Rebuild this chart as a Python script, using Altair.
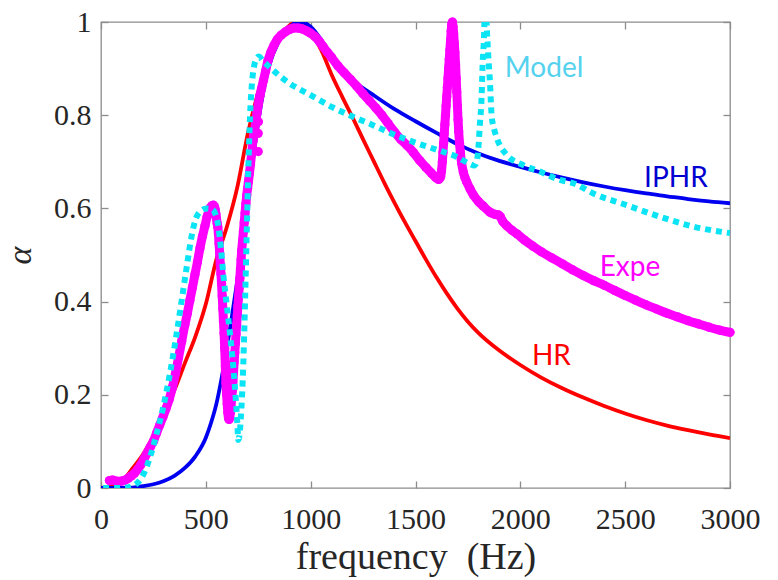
import altair as alt
import pandas as pd

# ---- HR (red, solid) ----
hr_f = [0, 50, 100, 150, 200, 250, 300, 350, 400, 450, 500, 550, 600, 650, 700,
        750, 800, 850, 900, 930, 960, 1000, 1050, 1100, 1150, 1200, 1250, 1300,
        1350, 1400, 1450, 1500, 1550, 1600, 1650, 1700, 1750, 1800, 1900, 2000,
        2100, 2200, 2300, 2400, 2500, 2600, 2700, 2800, 2900, 3000]
hr_a = [0.0, 0.004, 0.014, 0.042, 0.072, 0.112, 0.16, 0.21, 0.268, 0.325, 0.395,
        0.49, 0.56, 0.645, 0.76, 0.85, 0.92, 0.965, 0.993, 1.0, 0.996, 0.978,
        0.94, 0.887, 0.84, 0.795, 0.748, 0.702, 0.656, 0.612, 0.57, 0.53,
        0.49, 0.452, 0.417, 0.385, 0.357, 0.333, 0.295, 0.264, 0.237, 0.214,
        0.194, 0.176, 0.16, 0.146, 0.134, 0.124, 0.115, 0.107]

# ---- IPHR (blue, solid) ----
iphr_f = [0, 100, 150, 200, 250, 300, 350, 400, 450, 500, 525, 550, 575, 600,
          625, 650, 675, 700, 725, 750, 775, 800, 850, 900, 950, 1000, 1050,
          1100, 1150, 1200, 1300, 1400, 1500, 1600, 1700, 1800, 1900, 2000,
          2100, 2200, 2300, 2400, 2500, 2600, 2700, 2800, 2900, 3000]
iphr_a = [0.0, 0.0, 0.001, 0.004, 0.008, 0.015, 0.026, 0.043, 0.068, 0.108,
          0.14, 0.18, 0.235, 0.3, 0.37, 0.445, 0.525, 0.61, 0.705, 0.785, 0.852,
          0.903, 0.96, 0.99, 1.0, 0.99, 0.962, 0.927, 0.898, 0.875, 0.843,
          0.813, 0.787, 0.762, 0.738, 0.718, 0.702, 0.689, 0.677, 0.666, 0.656,
          0.647, 0.639, 0.632, 0.626, 0.62, 0.615, 0.611]

# ---- Expe (magenta, measured points) ----
expe_f = [40, 55, 70, 85, 100, 115, 130, 145, 160, 175, 190, 205, 220, 235, 250,
          265, 280, 295, 310, 325, 340, 355, 370, 385, 400, 412, 424, 436, 448,
          460, 472, 484, 496, 506, 514, 522, 530, 536, 541, 545, 548, 551, 554,
          557, 560, 563, 566, 569, 572, 575, 578, 581, 584, 587, 590, 593, 596,
          599, 602, 605, 608, 611, 614, 617, 620, 623, 626, 629, 632, 635, 638,
          641, 644, 647, 650, 653, 656, 659, 662, 665, 668, 671, 675, 679, 683,
          687, 691, 695, 699, 703, 708, 713, 719, 725, 731, 737, 744, 751, 758,
          766, 775, 785, 795, 810, 825, 840, 860, 880, 900, 920, 940, 960, 980,
          1000, 1020, 1040, 1060, 1080, 1100, 1130, 1160, 1190, 1220, 1250, 1280,
          1310, 1340, 1370, 1400, 1430, 1460, 1490, 1520, 1550, 1575, 1595, 1610,
          1620, 1624, 1628, 1631, 1634, 1637, 1640, 1643, 1646, 1649, 1652, 1655,
          1658, 1661, 1664, 1667, 1670, 1673, 1676, 1679, 1682, 1685, 1688, 1691,
          1694, 1697, 1700, 1703, 1706, 1710, 1714, 1720, 1728, 1736, 1744, 1760,
          1776, 1800, 1823, 1855, 1880, 1895, 1905, 1915, 1935, 1960, 1985, 2020,
          2060, 2100, 2150, 2200, 2250, 2300, 2350, 2400, 2450, 2500, 2550, 2600,
          2650, 2700, 2750, 2800, 2850, 2900, 2950, 3000]
expe_a = [0.016, 0.017, 0.015, 0.014, 0.015, 0.017, 0.021, 0.026, 0.032, 0.04,
          0.05, 0.062, 0.075, 0.088, 0.1, 0.118, 0.135, 0.152, 0.17, 0.19, 0.215,
          0.245, 0.28, 0.315, 0.35, 0.375, 0.403, 0.43, 0.458, 0.485, 0.515,
          0.54, 0.563, 0.582, 0.594, 0.602, 0.606, 0.607, 0.604, 0.597, 0.588,
          0.578, 0.568, 0.56, 0.546, 0.525, 0.503, 0.48, 0.46, 0.439, 0.412,
          0.385, 0.358, 0.332, 0.3, 0.262, 0.225, 0.2, 0.18, 0.162, 0.15, 0.147,
          0.152, 0.162, 0.175, 0.19, 0.208, 0.228, 0.248, 0.27, 0.29, 0.31, 0.33,
          0.35, 0.37, 0.39, 0.41, 0.43, 0.45, 0.47, 0.49, 0.51, 0.53, 0.55, 0.57,
          0.59, 0.61, 0.628, 0.643, 0.657, 0.675, 0.695, 0.72, 0.745, 0.765,
          0.783, 0.805, 0.825, 0.842, 0.858, 0.875, 0.895, 0.915, 0.935, 0.95,
          0.962, 0.972, 0.979, 0.984, 0.987, 0.987, 0.985, 0.981, 0.976, 0.969,
          0.959, 0.947, 0.935, 0.924, 0.906, 0.891, 0.877, 0.862, 0.846, 0.831,
          0.816, 0.8, 0.782, 0.764, 0.748, 0.735, 0.72, 0.703, 0.688, 0.676,
          0.667, 0.662, 0.668, 0.68, 0.7, 0.72, 0.74, 0.76, 0.78, 0.8, 0.82, 0.84,
          0.86, 0.88, 0.9, 0.92, 0.94, 0.96, 0.98, 0.995, 1.0, 0.99, 0.975, 0.955,
          0.935, 0.91, 0.88, 0.85, 0.82, 0.79, 0.765, 0.74, 0.72, 0.697, 0.678,
          0.666, 0.657, 0.642, 0.629, 0.615, 0.605, 0.592, 0.587, 0.586, 0.582,
          0.573, 0.563, 0.553, 0.545, 0.532, 0.519, 0.507, 0.494, 0.481, 0.468,
          0.456, 0.445, 0.435, 0.424, 0.413, 0.403, 0.393, 0.384, 0.375, 0.367,
          0.359, 0.352, 0.345, 0.339, 0.334]

# a few stray measurement points just above 700 Hz
expe_stray_f = [750, 750, 751]
expe_stray_a = [0.722, 0.761, 0.786]

# ---- Model (cyan, dotted) ----
model_f = [10, 50, 100, 150, 180, 205, 235, 265, 297, 329, 361, 385, 409, 432,
           450, 470, 504, 530, 548, 560, 572, 583, 599, 615, 631, 643, 650, 655,
           661, 667, 673, 679, 687, 695, 703, 711, 720, 730, 740, 752, 775, 800,
           850, 900, 950, 1000, 1100, 1200, 1300, 1400, 1500, 1600, 1700, 1760,
           1780, 1792, 1800, 1807, 1815, 1820, 1827, 1833, 1839, 1847, 1855,
           1863, 1875, 1887, 1935, 2014, 2094, 2189, 2253, 2348, 2507, 2666,
           2825, 3000]
model_a = [0.0, 0.0, 0.0, 0.004, 0.014, 0.032, 0.068, 0.116, 0.174, 0.246, 0.332,
           0.403, 0.475, 0.54, 0.575, 0.592, 0.6, 0.598, 0.585, 0.56, 0.515,
           0.46, 0.395, 0.332, 0.26, 0.19, 0.14, 0.103, 0.115, 0.15, 0.2, 0.27,
           0.4, 0.546, 0.69, 0.8, 0.868, 0.905, 0.92, 0.926, 0.915, 0.905, 0.885,
           0.868, 0.855, 0.843, 0.818, 0.797, 0.778, 0.758, 0.741, 0.726, 0.71,
           0.695, 0.692, 0.7, 0.73, 0.78, 0.836, 0.908, 0.972, 1.08, 1.0, 0.929,
           0.872, 0.8, 0.77, 0.752, 0.715, 0.693, 0.679, 0.661, 0.654, 0.632,
           0.607, 0.582, 0.561, 0.547]

# ---- in-plot curve labels ----
label_text = ["Model", "IPHR", "Expe", "HR"]
label_freq = [2113, 2742, 2523, 2148]
label_alpha = [0.882, 0.646, 0.455, 0.264]
label_color = ["#55d2ee", "#0000d0", "#ff00ff", "#ff0000"]

x_ticks = [0, 500, 1000, 1500, 2000, 2500, 3000]
y_ticks = [0, 0.2, 0.4, 0.6, 0.8, 1]


def frame(freqs, alphas):
    return pd.DataFrame({"frequency": freqs, "alpha": alphas})


hr = frame(hr_f, hr_a)
iphr = frame(iphr_f, iphr_a)
expe = frame(expe_f, expe_a)
expe_stray = frame(expe_stray_f, expe_stray_a)
model = frame(model_f, model_a)
labels = pd.DataFrame({"text": label_text, "frequency": label_freq,
                       "alpha": label_alpha, "color": label_color})

SERIF = "Liberation Serif"
INK = "#262626"
FRAME = "#8c8c8c"

x_scale = alt.Scale(domain=[0, 3000], nice=False, zero=False)
y_scale = alt.Scale(domain=[0, 1], nice=False, zero=False)

bottom_axis = alt.Axis(
    orient="bottom", values=x_ticks, format="d", title="frequency\u2002(Hz)",
    offset=-7, tickSize=7, tickColor=FRAME, tickWidth=1.3, domain=False,
    grid=False, labelFont=SERIF, labelFontSize=30, labelColor=INK,
    labelPadding=16, labelFlush=False, labelOverlap=False,
    titleFont=SERIF, titleFontSize=38, titleFontWeight="normal",
    titleColor=INK, titleBaseline="alphabetic", titleY=87,
)
left_axis = alt.Axis(
    orient="left", values=y_ticks, format="~g", title="α",
    offset=-7, tickSize=7, tickColor=FRAME, tickWidth=1.3, domain=False,
    grid=False, labelFont=SERIF, labelFontSize=30, labelColor=INK,
    labelPadding=10, labelOverlap=False,
    titleFont=SERIF, titleFontSize=34, titleFontStyle="italic",
    titleFontWeight="normal", titleColor=INK, titleAngle=270,
    titleBaseline="alphabetic", titleAlign="center", titleX=-78, titleY=233,
)
top_axis = alt.Axis(
    orient="top", values=x_ticks, title="", labels=False, offset=-7,
    tickSize=7, tickColor=FRAME, tickWidth=1.3, domain=False, grid=False,
)
right_axis = alt.Axis(
    orient="right", values=y_ticks, title="", labels=False, offset=-7,
    tickSize=7, tickColor=FRAME, tickWidth=1.3, domain=False, grid=False,
)


def xy(x_axis=None, y_axis=None):
    return dict(
        x=alt.X("frequency:Q", scale=x_scale, axis=x_axis),
        y=alt.Y("alpha:Q", scale=y_scale, axis=y_axis),
    )


hr_line = alt.Chart(hr).mark_line(
    color="#ff0000", strokeWidth=3.8, interpolate="monotone", clip=True
).encode(**xy(bottom_axis, left_axis))

mirror_axes = alt.Chart(hr).mark_line(opacity=0).encode(**xy(top_axis, right_axis))

iphr_line = alt.Chart(iphr).mark_line(
    color="#0000f0", strokeWidth=3.8, interpolate="monotone", clip=True
).encode(**xy())

expe_line = alt.Chart(expe).mark_line(
    color="#ff00ff", strokeWidth=9, strokeCap="round", strokeJoin="round",
    interpolate="monotone"
).encode(**xy())

expe_dots = alt.Chart(expe).mark_circle(
    color="#ff00ff", size=85, opacity=1
).encode(**xy())

expe_stray_dots = alt.Chart(expe_stray).mark_circle(
    color="#ff00ff", size=85, opacity=1
).encode(**xy())

model_line = alt.Chart(model).mark_line(
    color="#0ae4f4", strokeWidth=6, strokeDash=[6, 5], strokeCap="butt",
    interpolate="monotone", clip=True
).encode(**xy())

label_marks = alt.Chart(labels).mark_text(
    font="Lato", fontSize=28, align="center", baseline="alphabetic"
).encode(
    **xy(),
    text="text:N",
    color=alt.Color("color:N", scale=None),
)

chart = alt.layer(
    hr_line, mirror_axes, iphr_line, expe_line, expe_dots, expe_stray_dots,
    model_line, label_marks,
).properties(
    width=629,
    height=466,
    autosize=alt.AutoSizeParams(type="none"),
    padding={"left": 101, "top": 22, "right": 48, "bottom": 92},
    background="white",
).configure_view(
    stroke=FRAME, strokeWidth=1.3
)

chart.save("out.html", embed_options={"renderer": "svg", "actions": False})
